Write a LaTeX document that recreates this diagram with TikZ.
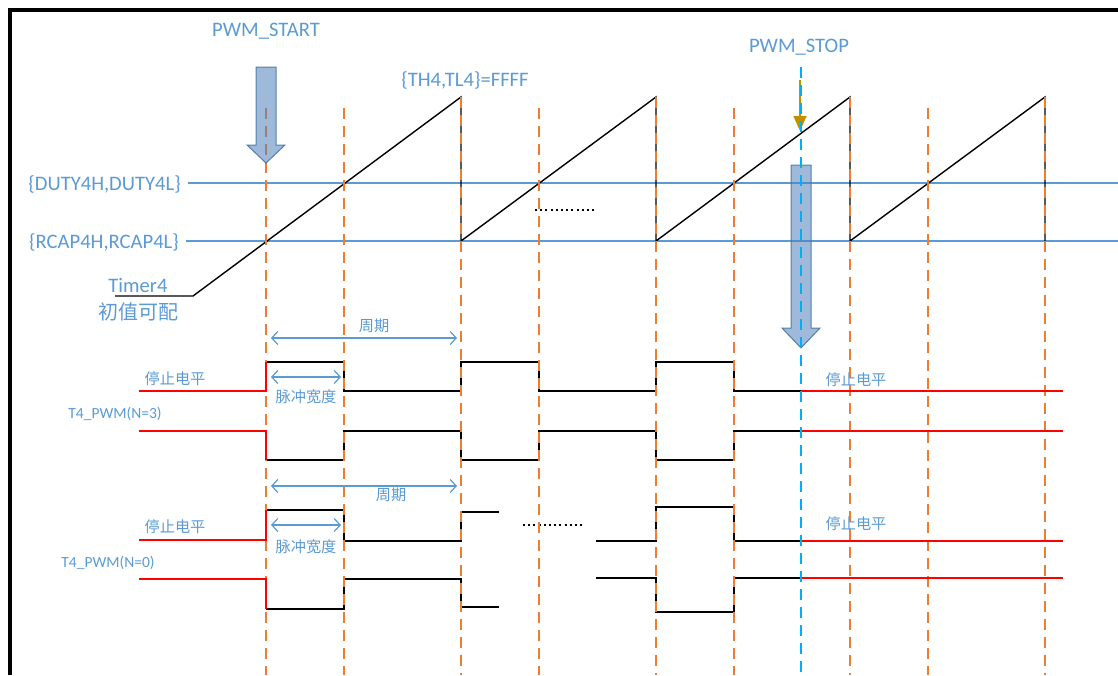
\documentclass[tikz,border=0pt]{standalone}
\usepackage{fontspec}
\setmainfont{Carlito}
\newfontfamily\cjk{Noto Sans CJK SC}
\usetikzlibrary{arrows.meta}
\definecolor{lblue}{HTML}{5B9BD5}
\definecolor{orng}{HTML}{ED7D31}
\definecolor{cyanl}{HTML}{00B0F0}
\definecolor{goldc}{HTML}{BF9000}
\definecolor{barrow}{HTML}{4F81BD}
\definecolor{bedge}{HTML}{41719C}
\definecolor{redl}{HTML}{FF0000}
\begin{document}
\begin{tikzpicture}[x=1pt,y=-1pt,
  bigtxt/.style={text=lblue,font=\fontsize{20.6}{24}\selectfont,inner sep=0pt},
  bigcjk/.style={text=lblue,font=\cjk\fontsize{20}{24}\selectfont,inner sep=0pt},
  smalltxt/.style={text=lblue,font=\fontsize{15.5}{18}\selectfont,inner sep=0pt},
  smallcjk/.style={text=lblue,font=\cjk\fontsize{15.2}{18}\selectfont,inner sep=0pt},
  refline/.style={lblue,line width=1.6pt},
  saw/.style={black,line width=1.4pt,line join=miter},
  wave/.style={black,line width=1.5pt,line join=miter},
  stopwave/.style={redl,line width=2pt,line join=miter},
  orngdash/.style={orng,line width=1.6pt,dash pattern=on 11pt off 7pt},
  cyandash/.style={cyanl,line width=1.6pt,dash pattern=on 11pt off 7pt},
  dotline/.style={black,line width=2pt,dash pattern=on 2pt off 3.2pt},
  dim/.style={lblue,line width=1.2pt,{Straight Barb[length=6pt,width=13pt]}-{Straight Barb[length=6pt,width=13pt]}},
  blockarrow/.style={fill=barrow,fill opacity=0.55,draw=bedge,draw opacity=0.85,line width=1pt,line join=miter}
]
\useasboundingbox (0,0) rectangle (1118,675);
\fill[white] (0,0) rectangle (1118,675);
% frame
\draw[black,line width=4pt] (9.5,675) -- (9.5,10) -- (1118,10);

% reference levels
\coordinate (dutyL) at (188,183); \coordinate (dutyR) at (1118,183);
\coordinate (rcapL) at (186,241); \coordinate (rcapR) at (1118,241);
\draw[refline] (dutyL) -- (dutyR);
\draw[refline] (rcapL) -- (rcapR);

% sawtooth
\draw[saw] (115,296) -- (193,296) -- (461,97) -- (461,241) -- (656,97) -- (656,241)
  -- (850,97) -- (850,241) -- (1045,97) -- (1045,241);
\draw[dotline] (535,210) -- (595,210);

% waveforms N=3
\draw[wave] (266,362) -- (344,362) -- (344,391) -- (461,391) -- (461,362) -- (539,362) -- (539,391)
  -- (656,391) -- (656,362) -- (734,362) -- (734,391) -- (801,391);
\draw[wave] (266,460) -- (344,460) -- (344,431) -- (461,431) -- (461,460) -- (539,460) -- (539,431)
  -- (656,431) -- (656,460) -- (734,460) -- (734,431) -- (801,431);
% waveforms N=0
\draw[wave] (266,510) -- (344,510) -- (344,541) -- (461,541) -- (461,512) -- (499,512);
\draw[wave] (596,541) -- (656,541) -- (656,507) -- (734,507) -- (734,541) -- (801,541);
\draw[wave] (266,609) -- (344,609) -- (344,579) -- (461,579) -- (461,607) -- (499,607);
\draw[wave] (596,578) -- (656,578) -- (656,612) -- (734,612) -- (734,578) -- (801,578);
\draw[dotline] (523,525) -- (584,525);

% orange dashed time markers
\foreach \x/\y in {266/108,344/108,461/97,539/108,656/97,734/108,850/97,928/108,1045/97}
  \draw[orngdash] (\x,\y) -- (\x,675);

% stop level (red) before PWM_START and after PWM_STOP
\draw[stopwave] (139,391) -- (266,391) -- (266,362);
\draw[stopwave] (139,431) -- (266,431) -- (266,460);
\draw[stopwave] (139,540) -- (266,540) -- (266,510);
\draw[stopwave] (139,579) -- (266,579) -- (266,609);
\draw[stopwave] (801,391) -- (1063,391);
\draw[stopwave] (801,431) -- (1063,431);
\draw[stopwave] (801,541) -- (1063,541);
\draw[stopwave] (801,578) -- (1063,578);

% dimension arrows
\coordinate (p1a) at (271,338); \coordinate (p1b) at (457,338);
\coordinate (w1a) at (271,377); \coordinate (w1b) at (341,377);
\coordinate (p2a) at (271,486); \coordinate (p2b) at (457,486);
\coordinate (w2a) at (271,525); \coordinate (w2b) at (341,525);
\draw[dim] (p1a) -- (p1b);
\draw[dim] (w1a) -- (w1b);
\draw[dim] (p2a) -- (p2b);
\draw[dim] (w2a) -- (w2b);

% PWM_START block arrow
\draw[blockarrow] (256,67) -- (276,67) -- (276,145) -- (285,145) -- (266,163) -- (247,145) -- (256,145) -- cycle;
% PWM_STOP block arrow
\draw[blockarrow] (791,165) -- (811,165) -- (811,328) -- (820,328) -- (801,348) -- (782,328) -- (791,328) -- cycle;
% gold arrow
\coordinate (gtop) at (800,80); \coordinate (gtip) at (800,131);
\draw[goldc,line width=1.6pt,-{Triangle[length=15pt,width=13pt]}] (gtop) -- (gtip);
% cyan stop marker
\draw[cyandash] (801,67) -- (801,675);

% labels
\node[bigtxt] (lstart) at (266,31) {PWM\_START};
\node[bigtxt] (lstop) at (799,47) {PWM\_STOP};
\node[bigtxt] (lffff) at (465,80) {\{TH4,TL4\}=FFFF};
\node[bigtxt,anchor=east] (lduty) at (181,184) {\{DUTY4H,DUTY4L\}};
\node[bigtxt,anchor=east] (lrcap) at (179,242) {\{RCAP4H,RCAP4L\}};
\node[bigtxt] (ltimer) at (138,285) {Timer4};
\node[bigcjk] (linit) at (138,312) {初值可配};
\node[smallcjk] (lper1) at (374,326) {周期};
\node[smallcjk] (lstop1) at (175,379) {停止电平};
\node[smallcjk] (lwid1) at (306,397) {脉冲宽度};
\node[smalltxt] (ln3) at (115,414) {T4\_PWM(N=3)};
\node[smallcjk] (lper2) at (391,495) {周期};
\node[smallcjk] (lstop2) at (175,527) {停止电平};
\node[smallcjk] (lwid2) at (306,547) {脉冲宽度};
\node[smalltxt] (ln0) at (108,563) {T4\_PWM(N=0)};
\node[smallcjk] (lstop3) at (856,380) {停止电平};
\node[smallcjk] (lstop4) at (856,524) {停止电平};
\end{tikzpicture}
\end{document}
